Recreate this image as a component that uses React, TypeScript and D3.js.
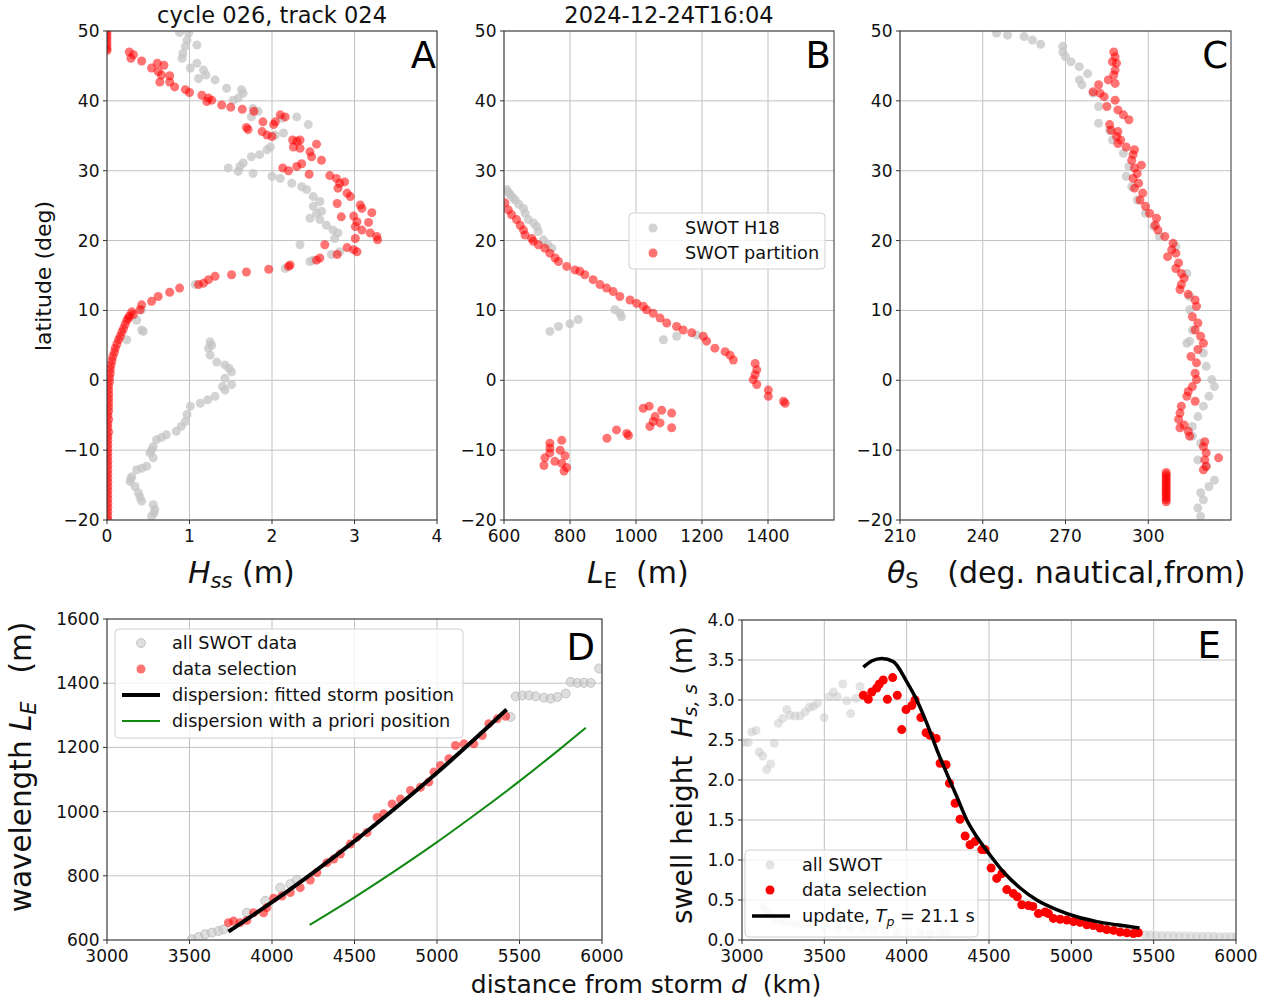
import React from 'react';
import * as d3 from 'd3';

type P = [number, number];

// ---------------- Panel A : Hss vs latitude ----------------
const A_H18: P[] = [
  [0.88,49.8],[0.99,49.7],[0.97,48.7],[1.09,48.0],[0.95,47.8],[0.92,46.8],[0.91,46.1],[1.09,45.4],[1.01,44.7],[1.17,44.4],
  [1.20,43.7],[1.11,43.2],[1.31,43.0],[1.45,41.8],[1.63,41.6],[1.65,41.1],[1.59,40.4],[1.53,40.1],[1.77,38.9],[1.83,38.5],
  [1.75,37.7],[2.12,37.5],[2.30,37.7],[2.44,36.6],[2.14,35.4],[2.04,35.1],[1.98,33.4],[1.94,33.0],[1.85,32.3],[1.75,32.0],
  [1.65,31.1],[1.61,30.6],[1.47,30.4],[1.59,29.9],[1.77,29.6],[2.00,29.2],[2.10,28.9],[2.24,28.2],[2.36,27.7],[2.42,27.3],
  [2.50,26.3],[2.58,25.6],[2.50,24.9],[2.54,23.9],[2.60,24.2],[2.46,23.2],[2.58,23.0],[2.66,22.2],[2.74,21.5],[2.80,21.1],
  [2.76,20.3],[2.82,18.4],[2.72,18.0],[2.34,19.4],[2.50,17.2],[2.46,17.0],[2.16,16.0],[1.07,13.7],[0.42,10.1],[0.36,8.6],
  [0.42,7.2],[0.44,7.0],[0.24,5.8],[1.25,5.5],[1.27,5.0],[1.23,4.6],[1.25,3.6],[1.33,2.6],[1.43,2.2],[1.48,1.7],[1.51,1.2],
  [1.43,0.3],[1.51,-0.6],[1.40,-0.9],[1.43,-1.4],[1.31,-2.3],[1.22,-2.8],[1.13,-3.3],[1.01,-3.7],[0.97,-4.9],[0.95,-5.9],
  [0.90,-6.6],[0.84,-7.3],[0.72,-7.8],[0.66,-8.2],[0.60,-8.5],[0.56,-9.5],[0.54,-10.0],[0.52,-10.4],[0.56,-11.1],[0.48,-12.3],
  [0.42,-12.6],[0.36,-12.8],[0.30,-13.8],[0.29,-14.1],[0.28,-14.5],[0.34,-15.2],[0.38,-16.1],[0.40,-16.7],[0.42,-17.3],
  [0.56,-17.8],[0.58,-18.5],[0.57,-19.0],[0.54,-19.5]
];
const A_PART: P[] = [
  [0,50],[0,49.5],[0,49],[0,48.5],[0,48],[0,47.5],[0,47.2],
  [0.27,47.0],[0.32,46.6],[0.29,46.1],[0.42,45.7],[0.54,44.7],[0.61,45.4],[0.69,45.1],[0.62,44.2],[0.66,43.7],[0.76,43.6],
  [0.64,42.7],[0.76,42.7],[0.82,42.0],[0.95,41.6],[1.00,41.2],[1.15,40.8],[1.23,40.4],[1.21,39.9],[1.27,40.1],[1.39,39.4],
  [1.50,39.1],[1.64,38.8],[1.78,38.5],[1.89,37.0],[1.69,36.2],[1.71,35.9],[1.88,35.6],[1.94,35.1],[2.00,34.9],[2.02,36.6],
  [2.04,37.0],[2.10,38.0],[2.16,37.7],[2.25,34.4],[2.30,34.2],[2.34,34.4],[2.26,33.4],[2.34,33.2],[2.46,32.7],[2.48,32.0],
  [2.54,33.8],[2.60,31.5],[2.13,30.4],[2.20,30.0],[2.30,30.6],[2.36,31.0],[2.45,29.5],[2.70,29.3],[2.78,28.9],[2.82,28.2],
  [2.80,27.5],[2.88,28.4],[2.91,26.8],[2.95,26.3],[2.79,25.3],[3.07,25.1],[3.09,24.6],[3.21,24.0],[2.84,23.4],[2.99,23.5],
  [3.03,22.7],[3.01,22.0],[3.17,22.6],[3.09,21.5],[3.19,21.1],[3.27,20.6],[3.28,20.1],[3.01,20.3],[2.91,19.0],[2.99,18.7],
  [3.03,18.4],[2.79,18.0],[2.64,19.4],[2.58,17.5],[2.54,17.2],[2.22,16.5],[2.20,16.3],[1.96,15.9],[1.69,15.5],[1.51,15.1],
  [1.31,14.9],[1.23,14.4],[1.17,13.9],[1.11,13.7],[0.88,13.2],[0.76,12.6],[0.62,12.0],[0.54,11.3],[0.42,10.8],[0.40,10.1],
  [0.32,9.4],[0.26,8.9],
  [0.30,9.8],[0.27,9.2],[0.24,8.6],[0.22,8.0],[0.20,7.4],[0.18,6.9],[0.16,6.3],[0.14,5.8],[0.12,5.2],[0.10,4.6],[0.09,4.0],
  [0.07,3.4],[0.06,2.8],[0.05,2.2],[0.04,1.6],[0.04,1.0],[0.03,0.4],[0.03,-0.2],[0.02,-0.8],[0.02,-1.4],[0.02,-2.0],
  [0.02,-2.6],[0.02,-3.2],[0.02,-3.8],[0.02,-4.4],[0.01,-5.0],[0.02,-5.6],[0.01,-6.2],[0.01,-6.8],[0.02,-7.4],[0.01,-8.0],
  [0.01,-8.6],[0.01,-9.2],[0.01,-9.8],[0.01,-10.4],[0.01,-11.0],[0.01,-11.6],[0.01,-12.2],[0.01,-12.8],[0.01,-13.4],
  [0.01,-14.0],[0.01,-14.6],[0.01,-15.2],[0.01,-15.8],[0.01,-16.4],[0.01,-17.0],[0.01,-17.6],[0.01,-18.2],[0.01,-18.8],
  [0.01,-19.4],[0.01,-20.0]
];

// ---------------- Panel B : wavelength vs latitude ----------------
const B_H18: P[] = [
  [608,27.3],[613,26.9],[618,26.6],[626,26.2],[634,25.8],[645,25.2],[659,24.6],[664,23.9],[674,23.0],[690,22.5],[699,22.0],
  [704,21.3],[719,20.1],[732,19.5],[745,18.9],
  [739,7.0],[765,7.7],[800,8.1],[825,8.7],[936,10.1],[956,9.1],[951,9.6],[1083,5.8],[1123,6.3],[1184,6.5]
];
const B_PART: P[] = [
  [603,25.4],[613,24.4],[623,23.7],[638,23.0],[649,22.2],[659,21.5],[664,20.8],[684,20.3],[689,19.9],[704,19.4],[724,18.9],
  [739,18.2],[755,17.5],[765,17.0],[790,16.3],[815,15.8],[830,15.6],[845,15.1],[870,14.4],[891,13.7],[911,13.2],[931,12.7],
  [951,12.0],[982,11.5],[1002,11.0],[1022,10.6],[1032,10.1],[1052,9.6],[1073,8.9],[1093,8.2],[1123,7.7],[1143,7.2],
  [1169,6.8],[1204,6.3],[1214,5.6],[1239,4.6],[1270,4.1],[1285,3.6],[1295,2.9],[1361,2.4],[1366,1.5],[1361,0.8],[1355,0.1],
  [1366,-0.6],[1401,-1.4],[1401,-2.3],[1447,-3.0],[1452,-3.3],
  [1022,-4.0],[1040,-3.7],[1078,-4.3],[1108,-4.7],[1058,-5.2],[1052,-5.9],[1073,-6.1],[1042,-6.6],[1108,-6.8],
  [972,-7.6],[941,-7.1],[912,-8.3],[977,-7.9],
  [739,-9.0],[775,-8.6],[739,-9.7],[770,-10.0],[739,-10.4],[724,-11.1],[785,-10.8],[754,-11.6],[721,-12.2],[775,-11.9],
  [790,-12.5],[782,-13.0]
];

// ---------------- Panel C : direction vs latitude ----------------
const C_H18: P[] = [
  [245,49.7],[249,49.4],[255,49.2],[258,48.7],[261,48.1],[269,47.8],[269,47.0],[270,46.3],[272,45.6],[275,44.9],[278,43.9],
  [275,43.0],[276,42.3],[280,41.1],[282,39.2],[282,36.8],[286,35.8],[287,34.4],[291,32.5],[293,30.6],[292,29.2],[294,27.7],
  [296,25.8],[299,23.9],[302,22.0],[304,20.6],[310,19.2],[314,15.3],[315,12.0],[315,10.1],[316,7.2],[314,5.3],[315,5.6],
  [320,3.9],[321,2.0],[323,0.1],[324,-0.9],[322,-2.3],[320,-3.7],[318,-5.2],[316,-6.6],[316,-8.0],[319,-9.0],[318,-11.4],
  [321,-12.3],[324,-14.3],[322,-15.2],[319,-16.1],[320,-17.1],[318,-18.3],[319,-19.5]
];
const C_PART: P[] = [
  [287.5,47.0],[288,46.3],[288.5,45.4],[287,45.6],[288,44.4],[287.5,43.7],[285.5,43.0],[288,42.5],
  [282,42.3],[280,41.3],[282.5,41.1],[284,40.6],[285,39.2],[288,40.1],[289,38.7],[291,38.0],[293,37.3],
  [286,36.6],[286.5,35.8],[289,35.6],[288.5,34.9],[290,34.4],[289,33.9],[292,33.4],[295,33.0],[294.5,32.3],[294,31.5],
  [297.5,30.8],[295,30.4],[296,29.6],[294.5,28.9],[296.5,28.2],[295,27.5],[298,26.8],[297,25.8],[299,24.9],[300.5,23.9],
  [303,23.2],[302.5,22.2],[303.5,21.5],[306,20.6],[309,19.6],[308.5,18.7],[310,18.2],[307,17.7],[311,16.8],[310,16.0],
  [312,15.3],[313,14.6],[312,13.7],[311.5,13.0],[314.5,12.3],[317,11.5],[317.5,10.6],[316,9.1],[318,8.2],[317,7.2],
  [319,6.3],[320,5.3],[318,4.4],[315.5,3.4],[317.5,2.5],[317,1.0],[317.5,0.1],[316,-0.9],[314.5,-1.6],[314,-2.3],[317,-3.0],
  [312,-3.7],[311.5,-4.7],[311,-5.6],[313,-6.4],[311.5,-6.8],[314.5,-7.3],[315,-8.0],[320.5,-8.8],[320,-9.5],[321,-10.4],
  [320.5,-11.4],[321,-12.3],[325.5,-11.1],[320,-12.8],
  [306.5,-13.2],[306.5,-13.5],[306.5,-13.8],[306.5,-14.1],[306.5,-14.4],[306.5,-14.7],[306.5,-15.0],[306.5,-15.3],
  [306.5,-15.6],[306.5,-15.9],[306.5,-16.2],[306.5,-16.5],[306.5,-16.8],[306.5,-17.1],[306.5,-17.4]
];

// ---------------- Panel D : wavelength vs distance ----------------
const D_ALL: P[] = [
  [3514,602],[3554,609],[3595,618],[3636,623],[3676,628],[3706,633],[3848,685],[3959,722],[4050,763],[4111,774],[4151,787],
  [5446,1295],[5477,1359],[5517,1362],[5557,1362],[5598,1359],[5648,1355],[5689,1352],[5729,1357],[5780,1368],[5810,1404],
  [5851,1401],[5891,1401],[5932,1401],[5982,1446]
];
const D_SEL: P[] = [
  [3736,654],[3767,659],[3807,654],[3848,661],[3888,685],[3949,685],[3969,701],[4010,730],[4060,737],[4111,748],[4171,763],
  [4232,787],[4272,810],[4333,841],[4374,852],[4414,868],[4475,899],[4515,920],[4576,935],[4637,982],[4677,993],[4728,1024],
  [4779,1039],[4839,1066],[4900,1076],[4950,1092],[4981,1123],[5021,1144],[5072,1165],[5112,1206],[5163,1211],[5223,1211],
  [5274,1237],[5314,1274],[5365,1289],[5416,1297]
];
const D_FIT: P[] = [[3736,626],[4000,718],[4250,810],[4500,908],[4750,1012],[5000,1121],[5250,1236],[5422,1318]];
const D_APRIORI: P[] = [[4228,647],[4500,733],[4750,817],[5000,905],[5250,998],[5500,1095],[5750,1197],[5902,1261]];

// ---------------- Panel E : swell height vs distance ----------------
const E_ALL: P[] = [
  [3008,2.47],[3038,2.47],[3059,2.60],[3085,2.62],[3105,2.35],[3126,2.30],[3150,2.13],[3174,2.20],[3196,2.46],[3221,2.71],
  [3247,2.77],[3272,2.88],[3292,2.81],[3322,2.80],[3352,2.80],[3383,2.85],[3409,2.91],[3433,2.92],[3458,2.96],[3498,2.78],
  [3530,3.04],[3555,3.10],[3579,3.04],[3612,3.20],[3636,2.99],[3660,2.83],[3692,3.02],[3717,3.17],
  [3129,0.42],[3150,0.35],[3180,0.30],[3211,0.25],[3251,0.22],[3300,0.21],[3350,0.20],[3420,0.19],[3500,0.17],[3580,0.16],
  [3660,0.15],[3737,0.15],[3800,0.13],[3870,0.12],[3940,0.10],[4010,0.10],[4080,0.09],[4142,0.08],[4203,0.10],[4244,0.10],
  [5448,0.065],[5480,0.062],[5515,0.060],[5550,0.058],[5585,0.056],[5620,0.055],[5655,0.053],[5690,0.052],[5725,0.050],
  [5760,0.049],[5795,0.048],[5830,0.047],[5865,0.046],[5900,0.045],[5935,0.044],[5970,0.043],[6000,0.042]
];
const E_SEL: P[] = [
  [3737,3.06],[3767,3.01],[3788,3.10],[3818,3.15],[3834,3.20],[3858,3.25],[3915,3.28],[3883,3.01],[3943,3.06],[3970,2.63],
  [3996,2.88],[4031,2.93],[4051,3.00],[4086,2.78],[4118,2.59],[4142,2.56],[4179,2.52],[4203,2.21],[4239,2.19],[4260,1.96],
  [4294,1.71],[4324,1.51],[4355,1.30],[4385,1.19],[4415,1.23],[4456,1.13],[4476,1.13],[4513,0.90],[4547,0.77],[4578,0.83],
  [4608,0.63],[4648,0.58],[4672,0.54],[4699,0.44],[4739,0.43],[4766,0.42],[4800,0.33],[4841,0.35],[4861,0.33],[4891,0.27],
  [4932,0.26],[4973,0.25],[5013,0.23],[5053,0.22],[5094,0.19],[5134,0.18],[5175,0.15],[5215,0.13],[5256,0.12],[5296,0.10],
  [5337,0.09],[5377,0.08],[5407,0.09]
];
const E_UPDATE: P[] = [
  [3737,3.41],[3790,3.49],[3849,3.52],[3919,3.48],[4000,3.23],[4061,3.00],[4122,2.71],[4183,2.38],[4244,2.08],[4305,1.79],
  [4365,1.50],[4426,1.29],[4507,1.06],[4588,0.85],[4689,0.65],[4790,0.50],[4911,0.38],[5033,0.29],[5155,0.23],[5276,0.19],
  [5414,0.15]
];

// ---------------- ticks ----------------
const LAT_TICKS = [-20, -10, 0, 10, 20, 30, 40, 50];
const A_XTICKS = [0, 1, 2, 3, 4];
const B_XTICKS = [600, 800, 1000, 1200, 1400];
const C_XTICKS = [210, 240, 270, 300];
const DIST_TICKS = [3000, 3500, 4000, 4500, 5000, 5500, 6000];
const D_YTICKS = [600, 800, 1000, 1200, 1400, 1600];
const E_YTICKS = [0, 0.5, 1, 1.5, 2, 2.5, 3, 3.5, 4];

const FONT = "'DejaVu Sans', Verdana, sans-serif";
const GREY = '#c4c4c4';
const RED = '#ff0000';
const TICK_FS = 17;
const LEG_FS = 17.7;

interface Scat { data: P[]; fill: string; opacity: number; r: number; stroke?: string }
interface Ln { data: P[]; color: string; width: number }

const intFmt = (v: number) => (v < 0 ? '\u2212' + Math.abs(v) : String(v));
const oneFmt = (v: number) => v.toFixed(1);

function Panel(props: {
  id: string; left: number; top: number; right: number; bottom: number;
  xDomain: [number, number]; yDomain: [number, number];
  xTicks: number[]; yTicks: number[]; yFmt?: (v: number) => string;
  scatters: Scat[]; lines?: Ln[]; letter: string; letterX: number; letterY: number;
  children?: React.ReactNode;
}) {
  const { id, left, top, right, bottom } = props;
  const x = d3.scaleLinear().domain(props.xDomain).range([left, right]);
  const y = d3.scaleLinear().domain(props.yDomain).range([bottom, top]);
  const gen = d3.line<P>().x(d => x(d[0])).y(d => y(d[1])).curve(d3.curveMonotoneX);
  const yFmt = props.yFmt || intFmt;
  return (
    <g>
      <defs>
        <clipPath id={id}>
          <rect x={left} y={top} width={right - left} height={bottom - top} />
        </clipPath>
      </defs>
      <rect x={left} y={top} width={right - left} height={bottom - top} fill="#fff" />
      <g stroke="#c2c2c2" strokeWidth={1}>
        {props.xTicks.map(t => <line key={'gx' + t} x1={x(t)} x2={x(t)} y1={top} y2={bottom} />)}
        {props.yTicks.map(t => <line key={'gy' + t} x1={left} x2={right} y1={y(t)} y2={y(t)} />)}
      </g>
      <g clipPath={`url(#${id})`}>
        {props.scatters.map((s, i) => (
          <g key={i} fill={s.fill} fillOpacity={s.opacity} stroke={s.stroke || 'none'} strokeOpacity={s.opacity}>
            {s.data.map((d, j) => <circle key={j} cx={x(d[0])} cy={y(d[1])} r={s.r} />)}
          </g>
        ))}
        {(props.lines || []).map((l, i) => (
          <path key={i} d={gen(l.data) || ''} fill="none" stroke={l.color} strokeWidth={l.width} />
        ))}
      </g>
      <rect x={left} y={top} width={right - left} height={bottom - top} fill="none" stroke="#333" strokeWidth={1} />
      <g stroke="#333" strokeWidth={1}>
        {props.xTicks.map(t => <line key={'tx' + t} x1={x(t)} x2={x(t)} y1={bottom} y2={bottom + 4} />)}
        {props.yTicks.map(t => <line key={'ty' + t} x1={left - 4} x2={left} y1={y(t)} y2={y(t)} />)}
      </g>
      <g fontFamily={FONT} fontSize={TICK_FS} fill="#111">
        {props.xTicks.map(t => (
          <text key={'lx' + t} x={x(t)} y={bottom + 22} textAnchor="middle">{intFmt(t)}</text>
        ))}
        {props.yTicks.map(t => (
          <text key={'ly' + t} x={left - 7.5} y={y(t) + 6} textAnchor="end">{yFmt(t)}</text>
        ))}
      </g>
      <text x={props.letterX} y={props.letterY} fontFamily={FONT} fontSize={37} textAnchor="end" fill="#000">{props.letter}</text>
      {props.children}
    </g>
  );
}

function LegendBox({ x, y, w, h }: { x: number; y: number; w: number; h: number }) {
  return <rect x={x} y={y} width={w} height={h} rx={4} fill="#fff" fillOpacity={0.8} stroke="#d0d0d0" strokeWidth={1} />;
}

export default function App() {
  const TOP = 31, BOT = 520;
  return (
    <svg width={1274} height={1001} style={{ position: 'absolute', left: 0, top: 0, background: '#fff' }}
      xmlns="http://www.w3.org/2000/svg">
      <rect x={0} y={0} width={1274} height={1001} fill="#fff" />

      {/* titles */}
      <text x={272} y={23} fontFamily={FONT} fontSize={22.5} textAnchor="middle" fill="#111">cycle 026, track 024</text>
      <text x={669} y={23} fontFamily={FONT} fontSize={22.5} textAnchor="middle" fill="#111">2024-12-24T16:04</text>

      {/* Panel A */}
      <Panel id="clipA" left={107} top={TOP} right={437} bottom={BOT} xDomain={[0, 4]} yDomain={[-20, 50]}
        xTicks={A_XTICKS} yTicks={LAT_TICKS}
        scatters={[
          { data: A_H18, fill: GREY, opacity: 0.75, r: 4.5 },
          { data: A_PART, fill: RED, opacity: 0.55, r: 4.5 },
        ]}
        letter="A" letterX={436} letterY={68} />

      {/* Panel B */}
      <Panel id="clipB" left={504} top={TOP} right={834} bottom={BOT} xDomain={[600, 1600]} yDomain={[-20, 50]}
        xTicks={B_XTICKS} yTicks={LAT_TICKS}
        scatters={[
          { data: B_H18, fill: GREY, opacity: 0.75, r: 4.5 },
          { data: B_PART, fill: RED, opacity: 0.55, r: 4.5 },
        ]}
        letter="B" letterX={831} letterY={68}>
        <LegendBox x={629} y={213} w={196} h={56} />
        <circle cx={653} cy={228} r={4.5} fill={GREY} fillOpacity={0.75} />
        <circle cx={653} cy={253} r={4.5} fill={RED} fillOpacity={0.55} />
        <text x={685} y={234} fontFamily={FONT} fontSize={LEG_FS} fill="#111">SWOT H18</text>
        <text x={685} y={259} fontFamily={FONT} fontSize={LEG_FS} fill="#111">SWOT partition</text>
      </Panel>

      {/* Panel C */}
      <Panel id="clipC" left={900} top={TOP} right={1231} bottom={BOT} xDomain={[210, 330]} yDomain={[-20, 50]}
        xTicks={C_XTICKS} yTicks={LAT_TICKS}
        scatters={[
          { data: C_H18, fill: GREY, opacity: 0.75, r: 4.5 },
          { data: C_PART, fill: RED, opacity: 0.55, r: 4.5 },
        ]}
        letter="C" letterX={1228} letterY={68} />

      {/* axis labels top row */}
      <text transform="translate(51,276) rotate(-90)" fontFamily={FONT} fontSize={22} textAnchor="middle" fill="#111">latitude (deg)</text>
      <text x={188} y={583} fontFamily={FONT} fontSize={30} fill="#111" xmlSpace="preserve">
        <tspan fontStyle="italic">H</tspan>
        <tspan fontStyle="italic" fontSize={21} dy={5}>ss</tspan>
        <tspan dy={-5}>{' (m)'}</tspan>
      </text>
      <text x={587} y={583} fontFamily={FONT} fontSize={30} fill="#111" xmlSpace="preserve">
        <tspan fontStyle="italic">L</tspan>
        <tspan fontSize={21} dy={5}>E</tspan>
        <tspan dy={-5}>{'  (m)'}</tspan>
      </text>
      <text x={887} y={583} fontFamily={FONT} fontSize={30} fill="#111" xmlSpace="preserve">
        <tspan fontStyle="italic">θ</tspan>
        <tspan fontSize={21} dy={5}>S</tspan>
        <tspan dy={-5}>{'   (deg. nautical,from)'}</tspan>
      </text>

      {/* Panel D */}
      <Panel id="clipD" left={107} top={619} right={602} bottom={940} xDomain={[3000, 6000]} yDomain={[600, 1600]}
        xTicks={DIST_TICKS} yTicks={D_YTICKS}
        scatters={[
          { data: D_ALL, fill: '#c8c8c8', opacity: 0.6, r: 4.5, stroke: '#aaaaaa' },
          { data: D_SEL, fill: RED, opacity: 0.55, r: 4.5 },
        ]}
        lines={[
          { data: D_FIT, color: '#000', width: 4 },
          { data: D_APRIORI, color: '#118811', width: 2 },
        ]}
        letter="D" letterX={595} letterY={660}>
        <LegendBox x={115} y={629} w={348} h={109} />
        <circle cx={141} cy={643} r={4.5} fill="#c8c8c8" fillOpacity={0.6} stroke="#aaa" strokeOpacity={0.6} />
        <circle cx={141} cy={669} r={4.5} fill={RED} fillOpacity={0.55} />
        <line x1={122} x2={160} y1={695} y2={695} stroke="#000" strokeWidth={4} />
        <line x1={122} x2={160} y1={721} y2={721} stroke="#118811" strokeWidth={2} />
        <g fontFamily={FONT} fontSize={LEG_FS} fill="#111">
          <text x={172} y={649}>all SWOT data</text>
          <text x={172} y={675}>data selection</text>
          <text x={172} y={701}>dispersion: fitted storm position</text>
          <text x={172} y={727}>dispersion with a priori position</text>
        </g>
      </Panel>

      {/* Panel E */}
      <Panel id="clipE" left={742} top={620} right={1236} bottom={940} xDomain={[3000, 6000]} yDomain={[0, 4]}
        xTicks={DIST_TICKS} yTicks={E_YTICKS} yFmt={oneFmt}
        scatters={[
          { data: E_ALL, fill: '#c0c0c0', opacity: 0.45, r: 4.5 },
          { data: E_SEL, fill: RED, opacity: 1, r: 4.5 },
        ]}
        lines={[{ data: E_UPDATE, color: '#000', width: 3.5 }]}
        letter="E" letterX={1221} letterY={658}>
        <LegendBox x={745} y={850} w={233} h={87} />
        <circle cx={770} cy={865} r={4.5} fill="#c0c0c0" fillOpacity={0.45} />
        <circle cx={770} cy={890} r={4.5} fill={RED} />
        <line x1={752} x2={790} y1={916} y2={916} stroke="#000" strokeWidth={3.5} />
        <g fontFamily={FONT} fontSize={LEG_FS} fill="#111">
          <text x={802} y={871}>all SWOT</text>
          <text x={802} y={896}>data selection</text>
          <text x={802} y={922} xmlSpace="preserve">
            <tspan>{'update, '}</tspan>
            <tspan fontStyle="italic">T</tspan>
            <tspan fontStyle="italic" fontSize={12.5} dy={4}>p</tspan>
            <tspan dy={-4}>{' = 21.1 s'}</tspan>
          </text>
        </g>
      </Panel>

      {/* bottom axis labels */}
      <text transform="translate(31,767) rotate(-90)" fontFamily={FONT} fontSize={29.5} textAnchor="middle" fill="#111" xmlSpace="preserve">
        <tspan>{'wavelength '}</tspan>
        <tspan fontStyle="italic">L</tspan>
        <tspan fontStyle="italic" fontSize={20.5} dy={5}>E</tspan>
        <tspan dy={-5}>{'   (m)'}</tspan>
      </text>
      <text transform="translate(692,775) rotate(-90)" fontFamily={FONT} fontSize={28} textAnchor="middle" fill="#111" xmlSpace="preserve">
        <tspan>{'swell height  '}</tspan>
        <tspan fontStyle="italic">H</tspan>
        <tspan fontStyle="italic" fontSize={19.5} dy={5}>{'s, s'}</tspan>
        <tspan dy={-5}>{' (m)'}</tspan>
      </text>
      <text x={646} y={993} fontFamily={FONT} fontSize={25} textAnchor="middle" fill="#111" xmlSpace="preserve">
        <tspan>{'distance from storm '}</tspan>
        <tspan fontStyle="italic">d</tspan>
        <tspan>{'  (km)'}</tspan>
      </text>
    </svg>
  );
}
